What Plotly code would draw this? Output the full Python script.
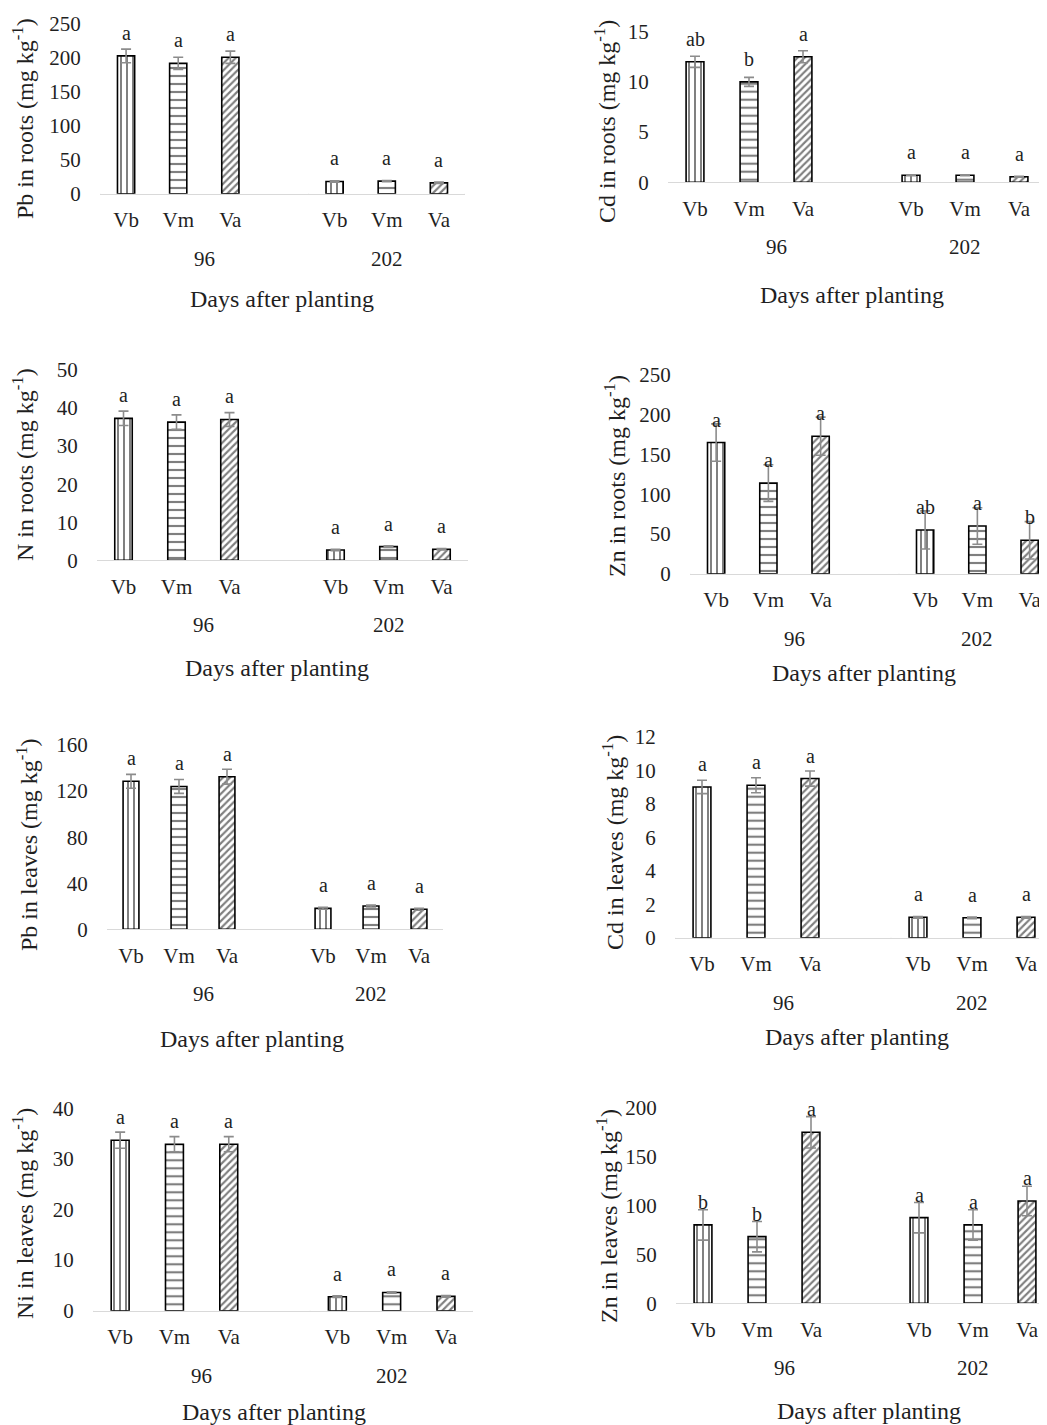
import plotly.graph_objects as go

# ---------------- data ----------------
varieties = ["Vb", "Vm", "Va"]
days = ["96", "202"]
x_title = "Days after planting"

# order of values: Vb, Vm, Va at 96 days, then Vb, Vm, Va at 202 days
pb_roots = [203, 192, 201, 18, 18.5, 16]
pb_roots_err = [10, 9, 9, 1, 1, 1]
pb_roots_sig = ["a", "a", "a", "a", "a", "a"]

cd_roots = [12.0, 10.0, 12.5, 0.7, 0.7, 0.55]
cd_roots_err = [0.55, 0.45, 0.6, 0.05, 0.05, 0.05]
cd_roots_sig = ["ab", "b", "a", "a", "a", "a"]

n_roots = [37.3, 36.3, 37.0, 2.7, 3.6, 2.9]
n_roots_err = [1.9, 1.9, 1.8, 0.2, 0.2, 0.2]
n_roots_sig = ["a", "a", "a", "a", "a", "a"]

zn_roots = [165, 114, 173, 55, 60, 42]
zn_roots_err = [23.5, 23, 24, 24, 23, 23.5]
zn_roots_sig = ["a", "a", "a", "ab", "a", "b"]

pb_leaves = [128.5, 124, 132.5, 18.2, 20.2, 17.4]
pb_leaves_err = [6, 6, 6.5, 0.8, 0.8, 0.8]
pb_leaves_sig = ["a", "a", "a", "a", "a", "a"]

cd_leaves = [9.0, 9.1, 9.5, 1.22, 1.19, 1.22]
cd_leaves_err = [0.4, 0.45, 0.45, 0.05, 0.05, 0.05]
cd_leaves_sig = ["a", "a", "a", "a", "a", "a"]

ni_leaves = [33.7, 32.9, 32.9, 2.77, 3.6, 2.84]
ni_leaves_err = [1.6, 1.5, 1.5, 0.15, 0.15, 0.15]
ni_leaves_sig = ["a", "a", "a", "a", "a", "a"]

zn_leaves = [80, 68, 174.5, 87.4, 80, 104.4]
zn_leaves_err = [15.5, 15.5, 16, 15.5, 15.5, 15]
zn_leaves_sig = ["b", "b", "a", "a", "a", "a"]

y_titles = [
    "Pb in roots (mg kg<sup>-1</sup>)", "Cd in roots (mg kg<sup>-1</sup>)",
    "N in roots (mg kg<sup>-1</sup>)", "Zn in roots (mg kg<sup>-1</sup>)",
    "Pb in leaves (mg kg<sup>-1</sup>)", "Cd in leaves (mg kg<sup>-1</sup>)",
    "Ni in leaves (mg kg<sup>-1</sup>)", "Zn in leaves (mg kg<sup>-1</sup>)",
]
y_max = [250, 15, 50, 250, 160, 12, 40, 200]
y_dtick = [50, 5, 10, 50, 40, 2, 10, 50]

panels_data = [
    (pb_roots, pb_roots_err, pb_roots_sig),
    (cd_roots, cd_roots_err, cd_roots_sig),
    (n_roots, n_roots_err, n_roots_sig),
    (zn_roots, zn_roots_err, zn_roots_sig),
    (pb_leaves, pb_leaves_err, pb_leaves_sig),
    (cd_leaves, cd_leaves_err, cd_leaves_sig),
    (ni_leaves, ni_leaves_err, ni_leaves_sig),
    (zn_leaves, zn_leaves_err, zn_leaves_sig),
]

# ---------------- layout geometry (page pixels) ----------------
PAGE_W, PAGE_H = 1047, 1425
OFF = 8                      # default page margin around the plot div
W, H = PAGE_W - OFF, PAGE_H - OFF


def fx(p):
    return (p - OFF) / W


def fy(p):
    return 1 - (p - OFF) / H


# x0, slot width, y of top tick, y of zero line, y-title centre, x-title centre
geom = [
    dict(x0=100, slot=52.14, ytop=24, yzero=193.7, yt=(23, 119), xt=(282, 299)),
    dict(x0=668, slot=54.0, ytop=31.7, yzero=182.3, yt=(605, 122), xt=(852, 295)),
    dict(x0=97, slot=53.0, ytop=370, yzero=560.3, yt=(23, 465), xt=(277, 668)),
    dict(x0=690, slot=52.25, ytop=375, yzero=573.7, yt=(615, 476), xt=(864, 673)),
    dict(x0=107, slot=48.0, ytop=745, yzero=929.3, yt=(27, 845), xt=(252, 1039)),
    dict(x0=675, slot=54.0, ytop=736.7, yzero=937.7, yt=(613, 843), xt=(857, 1037)),
    dict(x0=93, slot=54.3, ytop=1108.3, yzero=1310.7, yt=(23, 1214), xt=(274, 1412)),
    dict(x0=676, slot=54.0, ytop=1107.3, yzero=1303.3, yt=(607, 1216), xt=(869, 1411)),
]

FONT = "Liberation Serif, Times New Roman, serif"
TXT = "#1f1f1f"
patterns = [
    dict(shape="|", size=6, solidity=0.33),
    dict(shape="-", size=8, solidity=0.27),
    dict(shape="/", size=5, solidity=0.42),
]

fig = go.Figure()
annotations = []
shapes = []
layout_axes = {}

n_slots = 7  # 3 varieties at 96, one empty slot, 3 varieties at 202
pos_96 = [0, 1, 2]
pos_202 = [4, 5, 6]

for k, (vals, errs, sig) in enumerate(panels_data):
    g = geom[k]
    n = k + 1
    xa = "x" if n == 1 else f"x{n}"
    ya = "y" if n == 1 else f"y{n}"
    x1 = min(g["x0"] + n_slots * g["slot"], PAGE_W)
    r_end = -0.5 + (x1 - g["x0"]) / g["slot"]

    for i, v in enumerate(varieties):
        fig.add_trace(go.Bar(
            x=[pos_96[i], pos_202[i]],
            y=[vals[i], vals[i + 3]],
            width=0.33,
            name=v,
            showlegend=False,
            xaxis=xa, yaxis=ya,
            marker=dict(
                color="white",
                line=dict(color="black", width=1.6),
                pattern=dict(fgcolor="black", bgcolor="white", **patterns[i]),
            ),
            error_y=dict(type="data", array=[errs[i], errs[i + 3]],
                         color="#8c8c8c", thickness=1.6, width=5),
        ))
        for px, val, s in ((pos_96[i], vals[i], sig[i]), (pos_202[i], vals[i + 3], sig[i + 3])):
            annotations.append(dict(
                x=px, y=val, xref=xa, yref=ya, text=s, showarrow=False,
                yanchor="middle", yshift=23,
                font=dict(family=FONT, size=20, color=TXT)))

    # group labels
    for gx, d in ((1.5, days[0]), (5, days[1])):
        annotations.append(dict(
            x=gx, y=0, xref=xa, yref=ya, text=d, showarrow=False,
            yanchor="middle", yshift=-65,
            font=dict(family=FONT, size=21, color=TXT)))

    # category box dividers
    for dx in (-0.5, 3.5, 6.5):
        if dx <= r_end + 0.01:
            shapes.append(dict(
                type="line", xref=xa, yref=ya, x0=dx, x1=dx,
                ysizemode="pixel", yanchor=0, y0=0, y1=-77,
                line=dict(color="#d9d9d9", width=1.2)))

    # axis titles
    annotations.append(dict(
        x=fx(g["yt"][0]), y=fy(g["yt"][1]), xref="paper", yref="paper",
        text=y_titles[k], textangle=-90, showarrow=False,
        xanchor="center", yanchor="middle",
        font=dict(family=FONT, size=24, color=TXT)))
    annotations.append(dict(
        x=fx(g["xt"][0]), y=fy(g["xt"][1]), xref="paper", yref="paper",
        text=x_title, showarrow=False, xanchor="center", yanchor="middle",
        font=dict(family=FONT, size=24, color=TXT)))

    xkey = "xaxis" if n == 1 else f"xaxis{n}"
    ykey = "yaxis" if n == 1 else f"yaxis{n}"
    layout_axes[xkey] = dict(
        domain=[fx(g["x0"]), min(fx(x1), 1.0)], anchor=ya,
        range=[-0.5, r_end], automargin=False,
        tickvals=pos_96 + pos_202, ticktext=varieties + varieties,
        showline=True, linecolor="#d9d9d9", linewidth=1.2,
        ticks="outside", ticklen=7, tickcolor="rgba(0,0,0,0)",
        showgrid=False, zeroline=False, fixedrange=True,
        tickfont=dict(family=FONT, size=21, color=TXT))
    layout_axes[ykey] = dict(
        domain=[fy(g["yzero"]), fy(g["ytop"])], anchor=xa,
        range=[0, y_max[k]], dtick=y_dtick[k], tick0=0, automargin=False,
        showline=False, showgrid=False, zeroline=False,
        ticks="outside", ticklen=14, tickcolor="rgba(0,0,0,0)",
        fixedrange=True,
        tickfont=dict(family=FONT, size=21, color=TXT))

fig.update_layout(
    width=W, height=H,
    margin=dict(l=0, r=0, t=0, b=0, pad=0),
    paper_bgcolor="white", plot_bgcolor="white",
    barmode="overlay", showlegend=False,
    annotations=annotations, shapes=shapes,
    font=dict(family=FONT, color=TXT),
    **layout_axes,
)

fig.write_html("out.html")
